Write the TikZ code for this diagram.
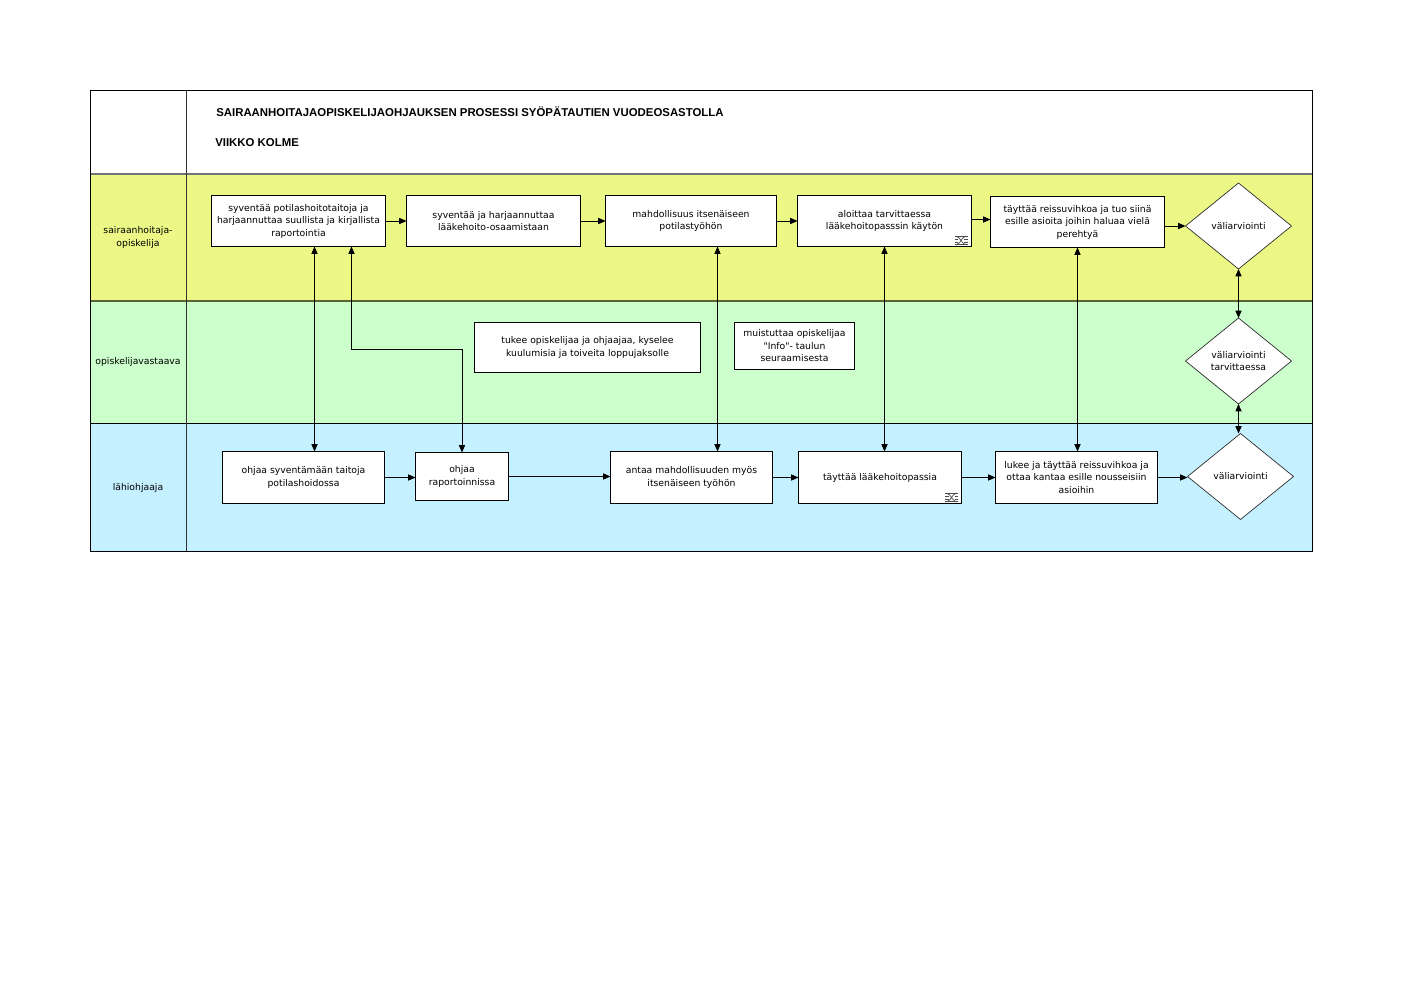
\documentclass[tikz,border=0pt]{standalone}
\usepackage{fontspec}
\setmainfont{DejaVu Sans}
\newfontfamily\titlefont{Liberation Sans}
\newfontfamily\plainquote{DejaVu Sans}
\usetikzlibrary{arrows.meta,shapes.geometric}
\definecolor{rowyellow}{HTML}{EBF886}
\definecolor{rowgreen}{HTML}{CCFFCC}
\definecolor{rowblue}{HTML}{C4F0FF}
\newcommand{\pxbox}[6]{\node[procbox,minimum width={(#4-#2)*0.75pt},minimum height={(#5-#3)*0.75pt}] (#1) at ({(#2+#4)/2},{(#3+#5)/2}) {#6};}
\newcommand{\pxdia}[4]{\node[decision] (#1) at (#2,#3) {#4};}
\newcommand{\jumpmark}[2]{\begin{scope}[shift={(#1,#2)},line width=0.5pt,black!70]
\draw (-6.5,-4) -- (6.5,-4) (-6.5,4) -- (6.5,4) (-6.5,-1.5) -- (-3,-1.5) (6.5,-1.5) -- (3,-1.5) (-6.5,1.5) -- (-3,1.5) (6.5,1.5) -- (3,1.5);
\draw (-5,-4.5) .. controls (1,-2) and (-1,2) .. (5,4.5) (5,-4.5) .. controls (-1,-2) and (1,2) .. (-5,4.5);
\end{scope}}
\tikzset{
  x=0.75pt,y=-0.75pt,
  every node/.style={font=\fontsize{6.95pt}{9.4pt}\selectfont,text=black},
  procbox/.style={draw=black,fill=white,line width=0.6pt,inner sep=0pt,outer sep=0pt,align=center},
  decision/.style={diamond,draw=black!85,fill=white,line width=0.5pt,inner sep=0pt,outer sep=0pt,align=center,minimum width=79.5pt,minimum height=64.5pt,aspect=1.23},
  lane/.style={inner sep=0pt,align=center},
  flow/.style={draw=black,line width=0.6pt,-{Triangle[length=5.5pt,width=4.6pt]}},
  both/.style={draw=black,line width=0.6pt,{Triangle[length=5.5pt,width=4.6pt]}-{Triangle[length=5.5pt,width=4.6pt]}},
  titletext/.style={font=\titlefont\bfseries\fontsize{8.55pt}{11pt}\selectfont,anchor=west,inner sep=0pt}
}
\begin{document}
\begin{tikzpicture}
\useasboundingbox (0,0) rectangle (1403,992);
\fill[white] (0,0) rectangle (1403,992);
% lanes
\fill[rowyellow] (90,174) rectangle (1312,300.5);
\fill[rowgreen] (90,300.5) rectangle (1312,423);
\fill[rowblue] (90,423) rectangle (1312,551);
\draw[black!55,line width=0.9pt] (90,174) -- (1312,174);
\draw[black!60!rowyellow,line width=1.2pt] (90,301) -- (1312,301);
\draw[black,line width=0.6pt] (90,423.5) -- (1312,423.5);
\draw[black!80,line width=0.7pt] (186,90) -- (186,551);
\draw[black,line width=0.7pt] (90,90) rectangle (1312,551);
% title
\node[titletext] (t1) at (216,111.5) {SAIRAANHOITAJAOPISKELIJAOHJAUKSEN PROSESSI SYÖPÄTAUTIEN VUODEOSASTOLLA};
\node[titletext] (t2) at (215,142.5) {VIIKKO KOLME};
% lane labels
\node[lane] (lane1) at (138,237.5) {sairaanhoitaja-\\opiskelija};
\node[lane] (lane2) at (138,362) {opiskelijavastaava};
\node[lane] (lane3) at (138,488) {lähiohjaaja};
% guide lines
\coordinate (vA) at (314.5,0);
\coordinate (vB) at (351.5,0);
\coordinate (vC) at (717.5,0);
\coordinate (vD) at (884.5,0);
\coordinate (vE) at (1077.5,0);
\coordinate (hB) at (0,349.5);
\coordinate (hS) at (0,219.5);
% boxes
\pxbox{s1}{211.5}{195.5}{385.5}{246.5}{syventää potilashoitotaitoja ja\\harjaannuttaa suullista ja kirjallista\\raportointia}
\pxbox{s2}{406.5}{195.5}{580.5}{246.5}{syventää ja harjaannuttaa\\lääkehoito-osaamistaan}
\pxbox{s3}{605.5}{195.5}{776.5}{246.5}{mahdollisuus itsenäiseen\\potilastyöhön}
\pxbox{s4}{797.5}{195.5}{971.5}{246.5}{aloittaa tarvittaessa\\lääkehoitopasssin käytön}
\pxbox{s5}{990.5}{196.5}{1164.5}{247.5}{täyttää reissuvihkoa ja tuo siinä\\esille asioita joihin haluaa vielä\\perehtyä}
\pxbox{o1}{474.5}{322.5}{700.5}{372.5}{tukee opiskelijaa ja ohjaajaa, kyselee\\kuulumisia ja toiveita loppujaksolle}
\pxbox{o2}{734.5}{322.5}{854.5}{369.5}{muistuttaa opiskelijaa\\{\plainquote "Info"}- taulun\\seuraamisesta}
\pxbox{l1}{222.5}{451.5}{384.5}{503.5}{ohjaa syventämään taitoja\\potilashoidossa}
\pxbox{l2}{415.5}{452.5}{508.5}{500.5}{ohjaa\\raportoinnissa}
\pxbox{l3}{610.5}{451.5}{772.5}{503.5}{antaa mahdollisuuden myös\\itsenäiseen työhön}
\pxbox{l4}{798.5}{451.5}{961.5}{503.5}{täyttää lääkehoitopassia}
\pxbox{l5}{995.5}{451.5}{1157.5}{503.5}{lukee ja täyttää reissuvihkoa ja\\ottaa kantaa esille nousseisiin\\asioihin}
\pxdia{d1}{1238.5}{226}{väliarviointi}
\pxdia{d2}{1238.5}{361}{väliarviointi\\tarvittaessa}
\pxdia{d3}{1240.5}{476.5}{väliarviointi}
\jumpmark{961}{240.5}
\jumpmark{951.5}{497.5}
% horizontal flows
\draw[flow] (s1.east) -- (s2.west);
\draw[flow] (s2.east) -- (s3.west);
\draw[flow] (s3.east) -- (s4.west);
\draw[flow] (s4.east |- hS) -- (s5.west |- hS);
\draw[flow] (s5.east |- d1.west) -- (d1.west);
\draw[flow] (l1.east) -- (l2.west |- l1.east);
\draw[flow] (l2.east) -- (l3.west |- l2.east);
\draw[flow] (l3.east |- l4.east) -- (l4.west);
\draw[flow] (l4.east) -- (l5.west);
\draw[flow] (l5.east) -- (l5.east -| d3.west);
% vertical flows
\draw[both] (vA |- s1.south) -- (vA |- l1.north);
\draw[both] (vB |- s1.south) -- (vB |- hB) -- (l2.north |- hB) -- (l2.north);
\draw[both] (vC |- s3.south) -- (vC |- l3.north);
\draw[both] (vD |- s4.south) -- (vD |- l4.north);
\draw[both] (vE |- s5.south) -- (vE |- l5.north);
\draw[both] (d1.south) -- (d2.north);
\draw[both] (d2.south) -- (d2.south |- d3.north);
\end{tikzpicture}
\end{document}
